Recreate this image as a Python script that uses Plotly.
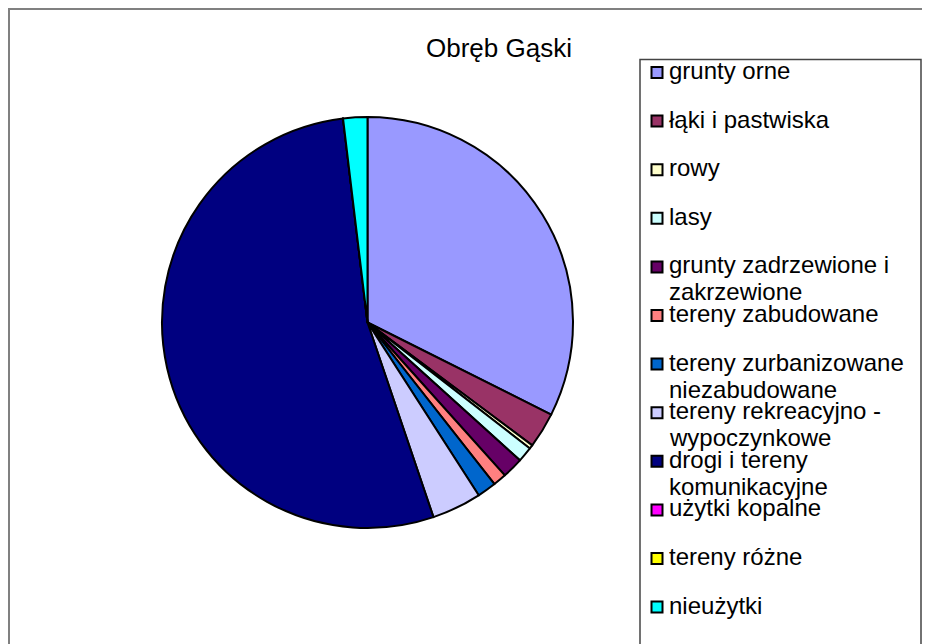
import plotly.graph_objects as go

# page body has an 8px margin; figure sized to fit the 930x644 window
OFF = 8
W, H = 922, 636

title_text = "Obręb Gąski"
labels = [
    "grunty orne",
    "łąki i pastwiska",
    "rowy",
    "lasy",
    "grunty zadrzewione i<br>zakrzewione",
    "tereny zabudowane",
    "tereny zurbanizowane<br>niezabudowane",
    "tereny rekreacyjno -<br>wypoczynkowe",
    "drogi i tereny<br>komunikacyjne",
    "użytki kopalne",
    "tereny różne",
    "nieużytki",
]
values = [32.4, 2.8, 0.3, 1.2, 1.65, 1.05, 1.5, 3.9, 53.3, 0.0, 0.0, 1.9]
colors = [
    "#9999FF", "#993366", "#FFFFCC", "#CCFFFF", "#660066", "#FF8080",
    "#0066CC", "#CCCCFF", "#000080", "#FF00FF", "#FFFF00", "#00FFFF",
]


def px(x):
    return (x - OFF) / W


def py(y):
    return 1 - (y - OFF) / H


FONT = "Liberation Sans, Arial, sans-serif"

fig = go.Figure()
fig.add_trace(go.Pie(
    labels=[l.replace("<br>", " ") for l in labels],
    values=values,
    sort=False,
    direction="clockwise",
    rotation=0,
    marker=dict(colors=colors, line=dict(color="#000000", width=2)),
    textinfo="none",
    hoverinfo="label+percent",
    showlegend=False,
    domain=dict(x=[px(162), px(573)], y=[py(528), py(117)]),
))

shapes = []
annotations = []

# outer chart frame
shapes.append(dict(type="rect", xref="paper", yref="paper",
                   x0=px(9), x1=px(945), y0=py(665), y1=py(9),
                   line=dict(color="#808080", width=2), fillcolor="rgba(0,0,0,0)"))
# legend frame
shapes.append(dict(type="rect", xref="paper", yref="paper",
                   x0=px(640), x1=px(921), y0=py(665), y1=py(59.5),
                   line=dict(color="#444444", width=1.5), fillcolor="rgba(0,0,0,0)"))

# title
annotations.append(dict(text=title_text, xref="paper", yref="paper",
                        x=px(499), y=py(48), xanchor="center", yanchor="middle",
                        showarrow=False, font=dict(family=FONT, size=26, color="#000000")))

# legend entries
y0, step, line_gap = 72.5, 48.6, 27
for i, (lab, col) in enumerate(zip(labels, colors)):
    yc = y0 + i * step
    shapes.append(dict(type="rect", xref="paper", yref="paper",
                       x0=px(651.5), x1=px(662.5), y0=py(yc + 5.5), y1=py(yc - 5.5),
                       line=dict(color="#000000", width=2), fillcolor=col))
    for j, part in enumerate(lab.split("<br>")):
        annotations.append(dict(text=part, xref="paper", yref="paper",
                                x=px(667), y=py(yc - 2 + j * line_gap),
                                xanchor="left", yanchor="middle", showarrow=False,
                                font=dict(family=FONT, size=24, color="#000000")))

fig.update_layout(
    width=W, height=H,
    margin=dict(l=0, r=0, t=0, b=0),
    paper_bgcolor="#FFFFFF",
    plot_bgcolor="#FFFFFF",
    shapes=shapes,
    annotations=annotations,
)

fig.write_html("out.html")
